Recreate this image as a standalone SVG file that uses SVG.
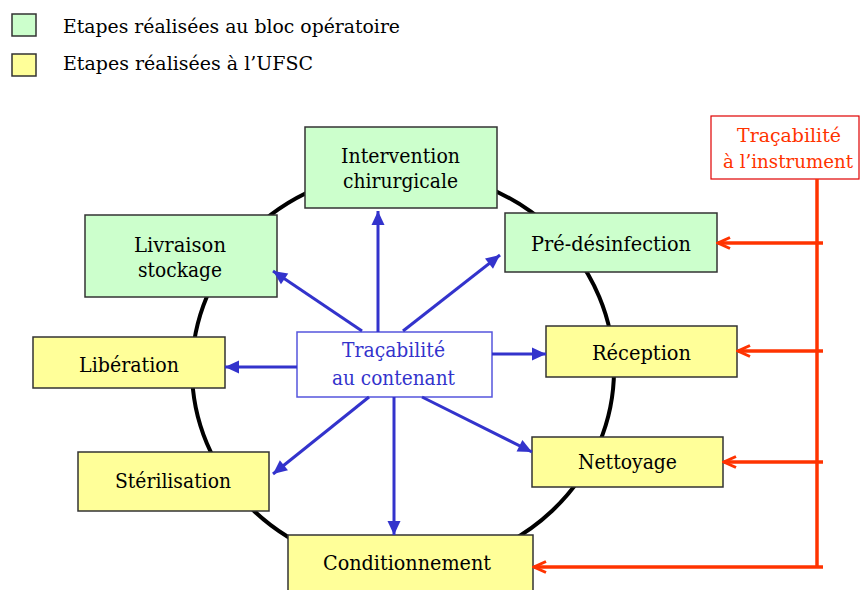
<svg xmlns="http://www.w3.org/2000/svg" width="860" height="590" viewBox="0 0 860 590">
<style>
text{font-family:'DejaVu Serif',serif;}
.lbl{font-size:20px;fill:#000;text-anchor:middle;}
.leg{font-size:18px;fill:#000;}
.green{fill:#CCFFCC;stroke:#333;stroke-width:1.5;}
.yellow{fill:#FFFF99;stroke:#333;stroke-width:1.5;}
.blue{stroke:#3333CC;stroke-width:3;fill:none;}
.red{stroke:#FF3300;stroke-width:3.5;fill:none;}
.bt{fill:#3333CC;}
.rt{fill:#FF3300;font-size:18px;}
</style>
<defs>
<marker id="ab" markerUnits="userSpaceOnUse" markerWidth="16" markerHeight="16" viewBox="0 0 16 16" refX="15" refY="8" orient="auto">
<path d="M1,1.5 L15,8 L1,14.5 Z" fill="#3333CC"/>
</marker>
<marker id="ar" markerUnits="userSpaceOnUse" markerWidth="16" markerHeight="16" viewBox="0 0 16 16" refX="14" refY="8" orient="auto">
<path d="M2,2.5 L14,8 L2,13.5" fill="none" stroke="#FF3300" stroke-width="3"/>
</marker>
</defs>
<rect width="860" height="590" fill="#fff"/>
<g id="legend">
<rect x="12" y="14" width="24" height="22" class="green"/>
<rect x="12" y="54" width="24" height="22" class="yellow"/>
<text class="leg" x="63" y="33" textLength="337" lengthAdjust="spacingAndGlyphs">Etapes réalisées au bloc opératoire</text>
<text class="leg" x="63" y="70" textLength="250" lengthAdjust="spacingAndGlyphs">Etapes réalisées à l’UFSC</text>
</g>
<ellipse id="cycle" cx="403" cy="370" rx="211" ry="199" fill="none" stroke="#000" stroke-width="4"/>
<g id="intervention">
<rect x="305" y="127" width="192" height="81" class="green"/>
<text class="lbl" x="400.5" y="163" textLength="119" lengthAdjust="spacingAndGlyphs">Intervention</text>
<text class="lbl" x="400.5" y="188" textLength="115" lengthAdjust="spacingAndGlyphs">chirurgicale</text>
</g>
<g id="predesinfection">
<rect x="505" y="213" width="212" height="59" class="green"/>
<text class="lbl" x="611" y="251" textLength="160" lengthAdjust="spacingAndGlyphs">Pré-désinfection</text>
</g>
<g id="reception">
<rect x="546" y="326" width="191" height="51" class="yellow"/>
<text class="lbl" x="641.5" y="360" textLength="99" lengthAdjust="spacingAndGlyphs">Réception</text>
</g>
<g id="nettoyage">
<rect x="532" y="437" width="191" height="50" class="yellow"/>
<text class="lbl" x="627.5" y="469" textLength="99" lengthAdjust="spacingAndGlyphs">Nettoyage</text>
</g>
<g id="conditionnement">
<rect x="288" y="535" width="245" height="62" class="yellow"/>
<text class="lbl" x="407" y="570" textLength="168" lengthAdjust="spacingAndGlyphs">Conditionnement</text>
</g>
<g id="sterilisation">
<rect x="78" y="452" width="191" height="59" class="yellow"/>
<text class="lbl" x="173" y="488" textLength="116" lengthAdjust="spacingAndGlyphs">Stérilisation</text>
</g>
<g id="liberation">
<rect x="33" y="337" width="192" height="51" class="yellow"/>
<text class="lbl" x="129" y="372" textLength="100" lengthAdjust="spacingAndGlyphs">Libération</text>
</g>
<g id="livraison">
<rect x="85" y="215" width="192" height="82" class="green"/>
<text class="lbl" x="180" y="252" textLength="92" lengthAdjust="spacingAndGlyphs">Livraison</text>
<text class="lbl" x="180" y="277" textLength="84" lengthAdjust="spacingAndGlyphs">stockage</text>
</g>
<g id="tracabilite-contenant">
<rect x="297" y="332" width="195" height="65" fill="#fff" stroke="#5555DD" stroke-width="1.5"/>
<text class="lbl bt" x="393.5" y="357" textLength="103" lengthAdjust="spacingAndGlyphs">Traçabilité</text>
<text class="lbl bt" x="393.5" y="385" textLength="123" lengthAdjust="spacingAndGlyphs">au contenant</text>
</g>
<g id="tracabilite-instrument">
<rect x="711" y="116" width="148" height="63" fill="#fff" stroke="#E00000" stroke-width="1.2"/>
<text class="lbl rt" x="789" y="142" textLength="104" lengthAdjust="spacingAndGlyphs">Traçabilité</text>
<text class="lbl rt" x="788" y="168" textLength="130" lengthAdjust="spacingAndGlyphs">à l’instrument</text>
</g>
<g id="connectors">
<line class="blue" x1="378" y1="332" x2="378" y2="211" marker-end="url(#ab)"/>
<line class="blue" x1="403" y1="331" x2="500" y2="255" marker-end="url(#ab)"/>
<line class="blue" x1="362" y1="331" x2="273" y2="271" marker-end="url(#ab)"/>
<line class="blue" x1="297" y1="367" x2="225" y2="367" marker-end="url(#ab)"/>
<line class="blue" x1="492" y1="354" x2="546" y2="354" marker-end="url(#ab)"/>
<line class="blue" x1="422" y1="397" x2="532" y2="452" marker-end="url(#ab)"/>
<line class="blue" x1="394" y1="397" x2="394" y2="535" marker-end="url(#ab)"/>
<line class="blue" x1="369" y1="397" x2="273" y2="474" marker-end="url(#ab)"/>
<line class="red" x1="817" y1="179" x2="817" y2="567"/>
<line class="red" x1="823" y1="243" x2="718" y2="243" marker-end="url(#ar)"/>
<line class="red" x1="823" y1="351" x2="738" y2="351" marker-end="url(#ar)"/>
<line class="red" x1="823" y1="462" x2="724" y2="462" marker-end="url(#ar)"/>
<line class="red" x1="823" y1="567" x2="534" y2="567" marker-end="url(#ar)"/>
</g>
</svg>
